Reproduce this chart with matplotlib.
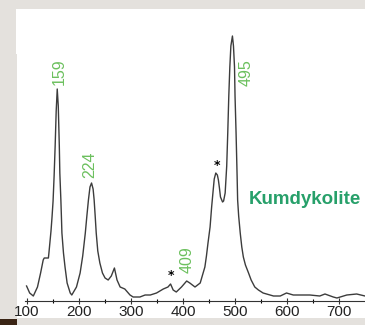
import numpy as np
import matplotlib.pyplot as plt
from matplotlib.patches import Rectangle

# Raman spectrum (wavenumber, intensity in arbitrary units)
wn = [99, 105, 112, 120, 126, 131, 133, 137, 141, 142, 146, 148, 150, 152, 154,
      156, 158, 160, 162, 163, 165, 166, 167, 170, 173, 177, 183, 186, 195, 202,
      207, 212, 215, 218, 221, 224, 227, 229, 231, 233, 236, 240, 245, 250, 256,
      262, 268, 273, 279, 288, 298, 304, 317, 327, 337, 349, 362, 371, 376, 381,
      387, 397, 407, 413, 423, 433, 442, 445, 448, 452, 455, 458, 460, 463, 466,
      468, 470, 472, 476, 478, 481, 484, 486, 488, 490, 492, 495, 497, 499, 500,
      502, 504, 505, 507, 510, 513, 516, 520, 526, 531, 538, 545, 554, 574, 587,
      599, 612, 625, 644, 663, 673, 689, 696, 715, 734, 750]
inten = [15, 8, 5, 14, 28, 41, 43, 43, 43, 48, 70, 84, 100, 125, 155,
         190, 212, 195, 155, 128, 101, 85, 68, 48, 34, 18, 8, 6, 14, 28,
         45, 68, 85, 101, 114, 118, 112, 101, 85, 68, 50, 38, 28, 23, 21,
         25, 33, 21, 14, 12, 6, 4, 4, 6, 6, 8, 12, 14, 17, 11,
         9, 14, 20, 18, 14, 18, 34, 45, 58, 74, 94, 111, 122, 128, 126,
         121, 113, 104, 99, 100, 108, 135, 168, 205, 234, 255, 265, 255, 234, 205,
         168, 125, 101, 85, 68, 54, 44, 36, 28, 21, 14, 11, 8, 5, 5,
         8, 6, 6, 6, 5, 7, 4, 3, 6, 7, 5]

peak_labels = ['159', '224', '409', '495']
peak_x = [161.5, 221, 408, 521]
peak_y = [229, 136, 41, 228]
star_x = [465, 377]
star_y = [135, 26]
ticks = [100, 200, 300, 400, 500, 600, 700]

fig = plt.figure(figsize=(3.65, 3.25), dpi=100)
fig.patch.set_facecolor('#e4e1dd')
fig.patches.append(Rectangle((17 / 365, 0.022), 1, 0.95, transform=fig.transFigure,
                             facecolor='white', edgecolor='none', zorder=0))
fig.patches.append(Rectangle((16 / 365, 1 - 54 / 325), 48 / 365, 45 / 325,
                             transform=fig.transFigure, facecolor='white',
                             edgecolor='none', zorder=0))
fig.patches.append(Rectangle((0, 0), 17 / 365, 6 / 325, transform=fig.transFigure,
                             facecolor='#3a2414', edgecolor='none', zorder=0))

ax = fig.add_axes([25 / 365, 24 / 325, 340 / 365, 291 / 325])
ax.set_zorder(2)
ax.patch.set_alpha(0)
ax.plot(wn, inten, color='#3c3c3c', lw=1.0)
ax.set_xlim(96, 750)
ax.set_ylim(0, 291)

for s in ['left', 'right', 'top']:
    ax.spines[s].set_visible(False)
ax.spines['bottom'].set_color('#333333')
ax.set_yticks([])
ax.set_xticks(ticks)
ax.set_xticks(np.arange(150, 750, 100), minor=True)
ax.tick_params(axis='x', direction='inout', length=4, width=0.8, colors='#333333',
               labelsize=11, pad=1)
ax.tick_params(axis='x', which='minor', direction='inout', length=3, width=0.8)
for lab in ax.get_xticklabels():
    lab.set_family('Liberation Sans')
    lab.set_color('#222222')

for t, x, y in zip(peak_labels, peak_x, peak_y):
    ax.text(x, y, t, rotation=90, ha='center', va='center', color='#6cc05e',
            fontsize=11.5, family='Liberation Sans')
for x, y in zip(star_x, star_y):
    ax.text(x, y, '*', ha='center', va='center', color='black', fontsize=9,
            fontweight='bold')
ax.text(527, 101, 'Kumdykolite', ha='left', va='center', color='#27a06a',
        fontsize=13.5, fontweight='bold', family='Liberation Sans')

fig.savefig('out.png', dpi=100)
